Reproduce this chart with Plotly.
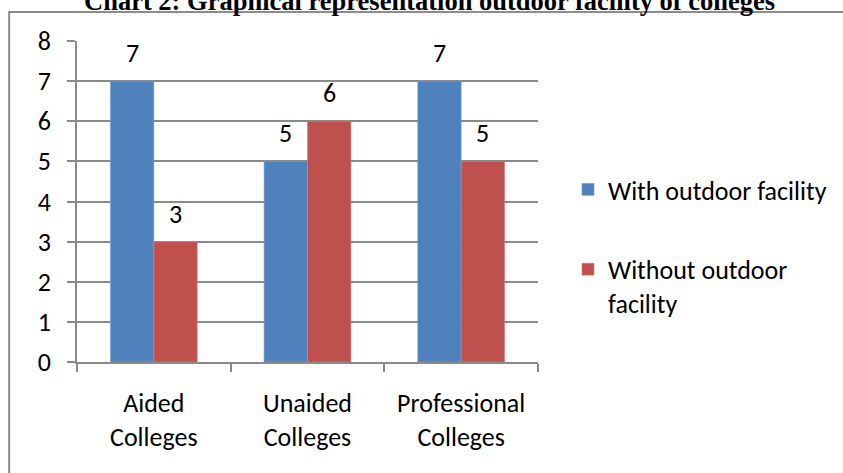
import plotly.graph_objects as go

# Chart data
categories = ["Aided<br>Colleges", "Unaided<br>Colleges", "Professional<br>Colleges"]
with_outdoor = [7, 5, 7]
without_outdoor = [3, 6, 5]
series_names = ["With outdoor facility", "Without outdoor<br>facility"]
y_ticks = [0, 1, 2, 3, 4, 5, 6, 7, 8]

BLUE = "#4F81BD"
RED = "#C0504D"
GRID = "#8a8a8a"
FONT = "Carlito, Calibri, Open Sans, sans-serif"
FS = 26

W, H = 843, 473
L, R, T, B = 77, 304, 41, 111
pw, ph = W - L - R, H - T - B

fig = go.Figure()
fig.add_trace(go.Bar(x=categories, y=with_outdoor, name=series_names[0],
                     marker=dict(color=BLUE, line=dict(color="#7A9FD0", width=0.6)),
                     legendgroup="a"))
fig.add_trace(go.Bar(x=categories, y=without_outdoor, name=series_names[1],
                     marker=dict(color=RED, line=dict(color="#D68280", width=0.6)),
                     legendgroup="b"))

# Value labels above each bar
bar_px = pw / 3 * (1 - 0.435) / 2
annotations = []
for vals, sign in ((with_outdoor, -1), (without_outdoor, 1)):
    for cat, v in zip(categories, vals):
        annotations.append(dict(x=cat, y=v, text=str(v), showarrow=False, xref="x", yref="y",
                                xshift=sign * bar_px / 2, yshift=10, yanchor="bottom",
                                font=dict(family=FONT, size=FS, color="#000")))

# Chart heading, partly above the page edge
annotations.append(dict(text="<b>Chart 2: Graphical representation outdoor facility of colleges</b>",
                        xref="paper", yref="paper", x=(430 - L) / pw,
                        y=(H - B - 1) / ph, xanchor="center", yanchor="middle",
                        showarrow=False,
                        font=dict(family="Liberation Serif, Times New Roman, serif", size=26.5, color="#000")))

fig.update_layout(
    width=W, height=H,
    margin=dict(l=L, r=R, t=T, b=B, pad=0),
    paper_bgcolor="white", plot_bgcolor="white",
    barmode="group", bargap=0.435, bargroupgap=0,
    font=dict(family=FONT, size=FS, color="#000"),
    showlegend=True,
    legend=dict(x=(568 - L) / pw, y=(H - B - 166) / ph, xanchor="left", yanchor="top",
                font=dict(family=FONT, size=FS, color="#000"), valign="top",
                tracegroupgap=43, itemwidth=30, bgcolor="rgba(0,0,0,0)"),
    annotations=annotations,
    shapes=[dict(type="rect", xref="paper", yref="paper",
                 x0=(9 - L) / pw, x1=(850 - L) / pw,
                 y0=(H - B - 480) / ph, y1=(H - B - 12) / ph,
                 line=dict(color="#8c8c8c", width=2), fillcolor="rgba(0,0,0,0)", layer="below")],
)
fig.update_xaxes(type="category", tickson="boundaries", ticks="outside", ticklen=8,
                 tickcolor=GRID, tickwidth=1.5, showline=True, linecolor=GRID, linewidth=1.5,
                 showgrid=False, ticklabelstandoff=17,
                 tickfont=dict(family=FONT, size=FS, color="#000"))
fig.update_yaxes(range=[0, 8], tickvals=y_ticks, ticks="outside", ticklen=8,
                 tickcolor=GRID, tickwidth=1.5, showline=True, linecolor=GRID, linewidth=1.5,
                 showgrid=True, gridcolor=GRID, gridwidth=1.5, zeroline=False,
                 ticklabelstandoff=11,
                 tickfont=dict(family=FONT, size=FS, color="#000"))

fig.write_html("out.html")
